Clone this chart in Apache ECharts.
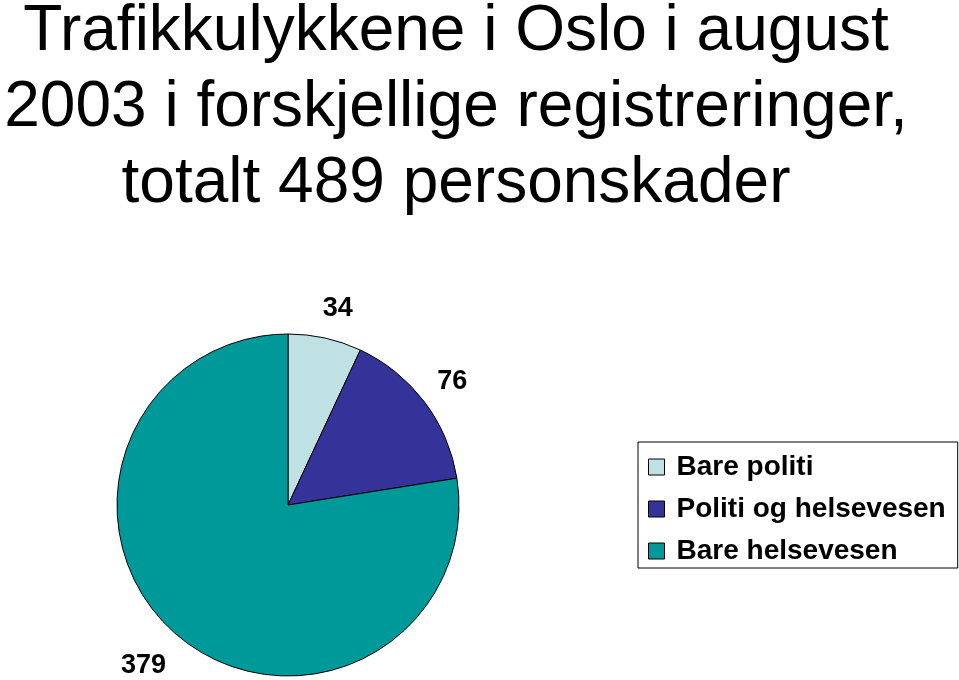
<!DOCTYPE html>
<html>
<head>
<meta charset="utf-8">
<script src="https://cdn.jsdelivr.net/npm/echarts@6/dist/echarts.min.js"></script>
<style>html,body{margin:0;padding:0;background:#fff;}#c{width:959px;height:680px;}</style>
</head>
<body>
<div id="c"></div>
<script>
const categories = ['Bare politi', 'Politi og helsevesen', 'Bare helsevesen'];
const values = [34, 76, 379];
const colors = ['#BFE1E3', '#333399', '#009999'];
const titleText = 'Trafikkulykkene i Oslo i august\n2003 i forskjellige registreringer,\ntotalt 489 personskader';

const FONT = '"Liberation Sans", Arial, sans-serif';
const labelOffsets = [[5, 6], [-1, 1], [-10, 3]];
const data = categories.map((c, i) => ({ name: c, value: values[i], itemStyle: { color: colors[i] } }));

const chart = echarts.init(document.getElementById('c'));
chart.setOption({
  animation: false,
  backgroundColor: '#fff',
  title: {
    text: titleText,
    left: 451, top: -11, textAlign: 'center',
    textStyle: { fontFamily: FONT, fontSize: 64, fontWeight: 'normal', color: '#000', lineHeight: 76 }
  },
  legend: {
    orient: 'vertical',
    left: 638, top: 442,
    padding: [11, 12, 3, 10],
    borderColor: '#000', borderWidth: 1,
    itemWidth: 16, itemHeight: 16, itemGap: 14,
    icon: 'rect',
    itemStyle: { borderColor: '#000', borderWidth: 1 },
    textStyle: { fontFamily: FONT, fontSize: 28, fontWeight: 'bold', color: '#000', lineHeight: 28, padding: [0, 0, 0, 7] },
    data: categories
  },
  series: [
    {
      type: 'pie',
      center: [288, 505],
      radius: [0, 171],
      startAngle: 90,
      clockwise: true,
      label: { show: false },
      labelLine: { show: false },
      itemStyle: { borderColor: '#000', borderWidth: 1 },
      emphasis: { disabled: true },
      data: data
    },
    {
      type: 'pie',
      center: [288, 505],
      radius: [186, 222],
      startAngle: 90,
      clockwise: true,
      silent: true,
      legendHoverLink: false,
      itemStyle: { color: 'rgba(0,0,0,0)', borderWidth: 0 },
      label: { show: true, position: 'inside', formatter: '{c}', fontFamily: FONT, fontSize: 27, fontWeight: 'bold', color: '#000' },
      labelLine: { show: false },
      emphasis: { disabled: true },
      data: categories.map((c, i) => ({ name: c + ' ', value: values[i], label: { offset: labelOffsets[i] } }))
    }
  ]
});
</script>
</body>
</html>
